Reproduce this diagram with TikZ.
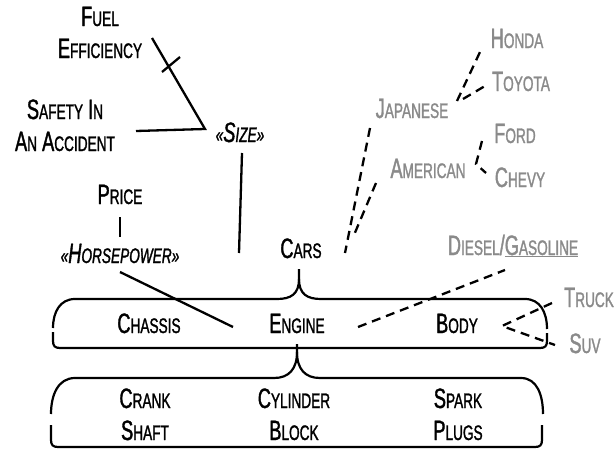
\documentclass[tikz,border=0pt]{standalone}
\usepackage{fontspec}
\setmainfont[FakeStretch=0.65,FakeBold=1.3]{Liberation Sans}
\definecolor{txtgray}{RGB}{138,138,138}
\newcommand\Sc[2]{{\fontsize{28}{32}\selectfont #1}{\fontsize{21}{32}\selectfont #2}}
\newcommand\Gm[1]{{\fontsize{21}{32}\selectfont #1}}
\newcommand\TwoL[2]{\fontsize{28}{32}\selectfont\begin{tabular}[t]{@{}c@{}}#1\\#2\end{tabular}}
\tikzset{
  lbl/.style={inner sep=0pt, anchor=base},
  glbl/.style={lbl, text=txtgray},
  conn/.style={line width=2.3pt},
  dconn/.style={line width=2.3pt, dash pattern=on 9pt off 6pt},
  boxline/.style={line width=2.2pt},
}
\begin{document}
\begin{tikzpicture}[x=1pt,y=-1pt]
\useasboundingbox (0,0) rectangle (614,450);
% black labels
\node[lbl] (fuel) at (100,26) {\TwoL{\Sc{F}{UEL}}{\Sc{E}{FFICIENCY}}};
\node[lbl] (safety) at (65,119) {\TwoL{\Sc{S}{AFETY} \Sc{I}{N}}{\Sc{A}{N} \Sc{A}{CCIDENT}}};
\node[lbl] (size) at (240,142) {\itshape\Gm{«}\Sc{S}{IZE}\Gm{»}};
\node[lbl] (price) at (120,204) {\Sc{P}{RICE}};
\node[lbl] (hp) at (120,263) {\itshape\Gm{«}\Sc{H}{ORSEPOWER}\Gm{»}};
\node[lbl] (cars) at (301,258) {\Sc{C}{ARS}};
\node[lbl] (chassis) at (149,333) {\Sc{C}{HASSIS}};
\node[lbl] (engine) at (297,333) {\Sc{E}{NGINE}};
\node[lbl] (body) at (457,333) {\Sc{B}{ODY}};
\node[lbl] (crank) at (145,408) {\TwoL{\Sc{C}{RANK}}{\Sc{S}{HAFT}}};
\node[lbl] (cylinder) at (294,408) {\TwoL{\Sc{C}{YLINDER}}{\Sc{B}{LOCK}}};
\node[lbl] (spark) at (458,408) {\TwoL{\Sc{S}{PARK}}{\Sc{P}{LUGS}}};
% gray labels
\node[glbl] (honda) at (517,48) {\Sc{H}{ONDA}};
\node[glbl] (toyota) at (521,91) {\Sc{T}{OYOTA}};
\node[glbl] (japanese) at (412,118) {\Sc{J}{APANESE}};
\node[glbl] (ford) at (515,143) {\Sc{F}{ORD}};
\node[glbl] (american) at (428,178) {\Sc{A}{MERICAN}};
\node[glbl] (chevy) at (520,187) {\Sc{C}{HEVY}};
\node[glbl] (diesel) at (513,255) {\Sc{D}{IESEL}{\fontsize{28}{32}\selectfont/}\underline{\Sc{G}{ASOLINE}}};
\node[glbl] (truck) at (589,307) {\Sc{T}{RUCK}};
\node[glbl] (suv) at (585,353) {\Sc{S}{UV}};
% connector end points
\coordinate (fuelEnd) at (152,38);
\coordinate (sizeJoin) at (205,129);
\coordinate (safetyEnd) at (136,131);
\coordinate (tickA) at (162,72);
\coordinate (tickB) at (180,57);
\coordinate (sizeEnd) at (242,153);
\coordinate (sizeLow) at (239,253);
\coordinate (priceEnd) at (120,217);
\coordinate (hpTop) at (120,237);
\coordinate (hpEnd) at (120,272);
\coordinate (engEnd) at (233,327);
\coordinate (japCarsA) at (370,128);
\coordinate (japCarsB) at (345,253);
\coordinate (amCarsA) at (376,183);
\coordinate (amCarsB) at (354,235);
\coordinate (japHub) at (457,101);
\coordinate (japHub2) at (463,99);
\coordinate (hondaEnd) at (480,52);
\coordinate (toyotaEnd) at (485,86);
\coordinate (amHub) at (476,164);
\coordinate (fordEnd) at (482,141);
\coordinate (chevyEnd) at (486,173);
\coordinate (engDiesel) at (358,327);
\coordinate (dieselEnd) at (505,270);
\coordinate (bodyHub) at (502,326);
\coordinate (truckEnd) at (552,303);
\coordinate (suvEnd) at (555,345);
% solid connectors
\draw[conn] (fuelEnd) -- (sizeJoin) -- (safetyEnd);
\draw[conn] (tickA) -- (tickB);
\draw[conn] (sizeEnd) -- (sizeLow);
\draw[conn] (priceEnd) -- (hpTop);
\draw[conn] (hpEnd) -- (engEnd);
% dashed connectors
\draw[dconn] (japCarsA) -- (japCarsB);
\draw[dconn] (amCarsA) -- (amCarsB);
\draw[dconn] (japHub) -- (hondaEnd);
\draw[dconn] (japHub2) -- (toyotaEnd);
\draw[dconn] (fordEnd) -- (amHub) -- (chevyEnd);
\draw[dconn] (engDiesel) -- (dieselEnd);
\draw[dconn] (truckEnd) -- (bodyHub) -- (suvEnd);
% upper bracket box (Cars)
\coordinate (carsTip) at (299,269);
\draw[boxline] (carsTip) -- (299,279) .. controls (299,294) and (291,299) .. (277,299) -- (75,299)
  .. controls (60,299) and (53,312) .. (53,328);
\draw[boxline] (53,332) -- (53,341) .. controls (53,346) and (55,348) .. (60,348) -- (540,348)
  .. controls (545,348) and (547,346) .. (547,341) -- (547,333);
\draw[boxline] (547,329) .. controls (547,312) and (540,299) .. (525,299) -- (321,299)
  .. controls (307,299) and (299,294) .. (299,279);
% lower bracket box (Engine)
\coordinate (engTip) at (297,344);
\draw[boxline] (engTip) -- (297,352) .. controls (297,369) and (289,378) .. (274,378) -- (75,378)
  .. controls (58,378) and (51,395) .. (51,414);
\draw[boxline] (51,425) -- (51,440) .. controls (51,445) and (53,447) .. (58,447) -- (535,447)
  .. controls (540,447) and (542,445) .. (542,440) -- (542,425);
\draw[boxline] (543,414) .. controls (543,395) and (537,378) .. (521,378) -- (320,378)
  .. controls (305,378) and (297,369) .. (297,352);
\end{tikzpicture}
\end{document}
